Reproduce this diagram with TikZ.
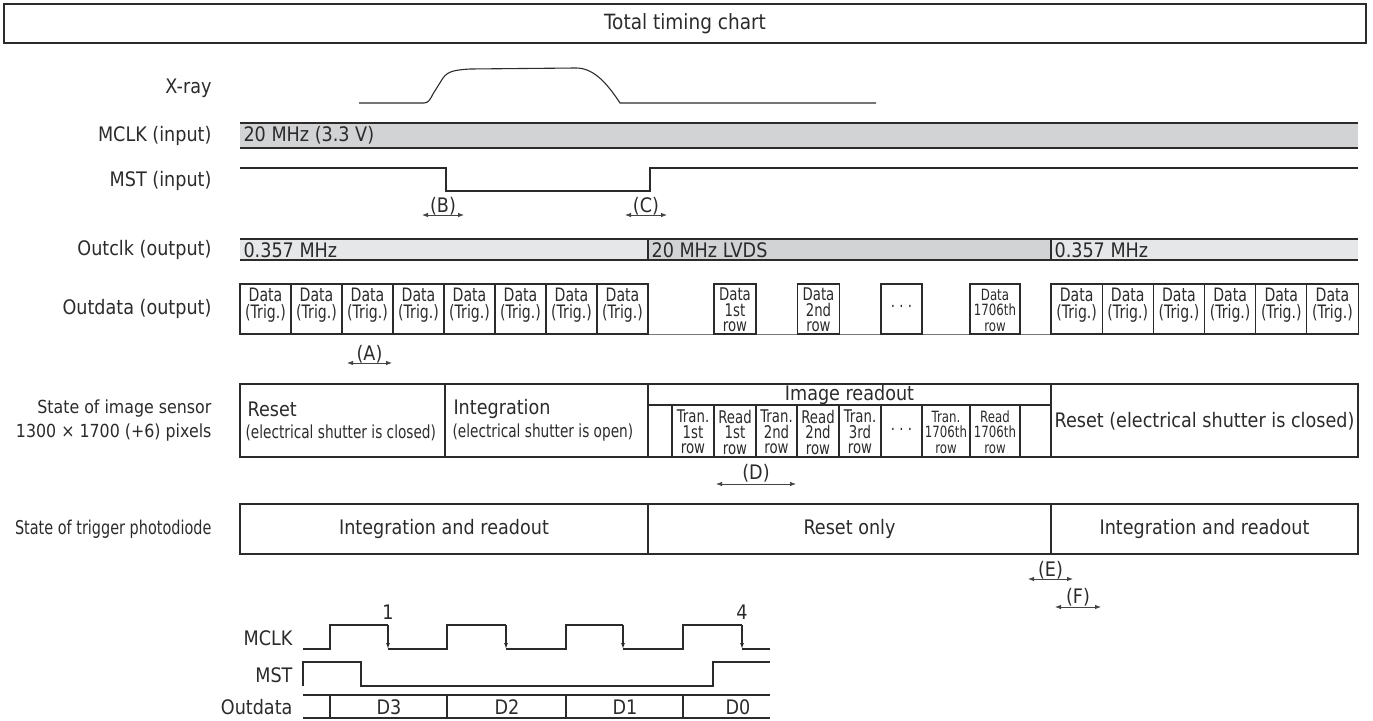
\documentclass[tikz,border=0pt]{standalone}
\usepackage{fontspec}
\setmainfont{DejaVu Sans}[FakeStretch=0.88]
\newfontfamily\narrowfont{DejaVu Sans}[FakeStretch=0.76]
\usetikzlibrary{arrows.meta}
\definecolor{ln}{HTML}{2B2B2B}
\definecolor{barA}{HTML}{D1D3D4}
\definecolor{barB}{HTML}{E6E7E8}
\definecolor{arr}{HTML}{444444}
\definecolor{base}{HTML}{777777}
\newcommand{\lblfont}{\fontsize{20}{22}\selectfont}
\newcommand{\ttlfont}{\fontsize{21}{24}\selectfont}
\newcommand{\midfont}{\fontsize{18}{24}\selectfont}
\newcommand{\nrwfont}{\narrowfont\fontsize{19}{24}\selectfont}
\newcommand{\shutfont}{\narrowfont\fontsize{18}{24}\selectfont}
\newcommand{\cellfont}{\narrowfont\fontsize{18.5}{17}\selectfont}
\newcommand{\subfont}{\narrowfont\fontsize{17.5}{15.5}\selectfont}
\newcommand{\tinyfont}{\narrowfont\fontsize{15.5}{15.5}\selectfont}
\begin{document}
\begin{tikzpicture}[x=1pt,y=-1pt,line width=1.1pt,color=ln,
  lbl/.style={anchor=east,inner sep=0,font=\lblfont},
  txt/.style={inner sep=0,font=\lblfont},
  wtxt/.style={anchor=west,inner sep=0,font=\lblfont},
  databox/.style={draw=ln,minimum height=50pt,inner sep=0},
  trigtext/.style={inner sep=0,align=center,font=\cellfont},
  subtext/.style={inner sep=0,align=center,font=\subfont},
  dim/.style={draw=arr,line width=0.8pt,{Latex[length=6pt,width=4.5pt]}-{Latex[length=6pt,width=4.5pt]}},
  annot/.style={inner sep=0,font=\lblfont},
  wave/.style={line width=1.1pt},
  fall/.style={line width=1.1pt,-{Latex[length=6pt,width=4pt]}}]
\useasboundingbox (0,0) rectangle (1373,720);

% title
\node[draw=ln,minimum width=1362pt,minimum height=39pt,inner sep=0,font=\ttlfont] (title) at (685,23.5) {Total timing chart};

% row labels
\node[lbl] (lxray) at (212,88) {X-ray};
\node[lbl] (lmclk) at (212,135.5) {MCLK (input)};
\node[lbl] (lmst) at (212,181) {MST (input)};
\node[lbl] (loutclk) at (212,250) {Outclk (output)};
\node[lbl] (loutdata) at (212,309) {Outdata (output)};
\node[lbl,font=\midfont,align=right] (lsensor) at (212,421) {State of image sensor\\1300 × 1700 (+6) pixels};
\node[lbl,font=\nrwfont] (ltrig) at (212,529) {State of trigger photodiode};

% X-ray
\draw[wave] (359,103) -- (424,103) .. controls (428,103) and (430,100) .. (433,94) -- (443,78)
  .. controls (448,71) and (455,70) .. (470,69) -- (576,68)
  .. controls (592,68) and (605,80) .. (620,103) -- (876,103);

% MCLK bar
\fill[barA] (240,123) rectangle (1358,148);
\draw (240,123) -- (1358,123) (240,148) -- (1358,148);
\node[wtxt] (mclktxt) at (243,135.5) {20 MHz (3.3 V)};

% MST
\draw[wave] (240,168) -- (446,168) -- (446,191) -- (650,191) -- (650,168) -- (1358,168);

% (B) (C)
\coordinate (b1) at (422,215); \coordinate (b2) at (464,215);
\draw[dim] (b1) -- (b2);
\node[annot] (labB) at (443,206) {(B)};
\coordinate (c1) at (625,215); \coordinate (c2) at (667,215);
\draw[dim] (c1) -- (c2);
\node[annot] (labC) at (646,206) {(C)};

% Outclk
\fill[barB] (240,239) rectangle (648,260);
\fill[barA] (648,239) rectangle (1051,260);
\fill[barB] (1051,239) rectangle (1358,260);
\draw (240,239) -- (1358,239) (240,260) -- (1358,260) (648,239) -- (648,260) (1051,239) -- (1051,260);
\node[wtxt] (oc1) at (243,250) {0.357 MHz};
\node[wtxt] (oc2) at (651,250) {20 MHz LVDS};
\node[wtxt] (oc3) at (1054,250) {0.357 MHz};

% Outdata
\foreach \i in {0,...,7}{
  \node[databox,minimum width=51pt] (tl\i) at ({265.5+51*\i},309) {};
  \node[trigtext] (ttl\i) at ({265.5+51*\i},305.5) {Data\\(Trig.)};
}
\foreach \i in {0,...,5}{
  \node[databox,minimum width=51.17pt] (tr\i) at ({1076.6+51.17*\i},309) {};
  \node[trigtext] (ttr\i) at ({1076.6+51.17*\i},305.5) {Data\\(Trig.)};
}
\draw[base] (tl7.south east) -- (tr0.south west);
\node[databox,minimum width=42pt] (d1) at (735,309) {};
\node[subtext] (d1t) at (735,310) {Data\\1st\\row};
\node[databox,minimum width=42pt] (d2) at (818.5,309) {};
\node[subtext] (d2t) at (818.5,310) {Data\\2nd\\row};
\node[databox,minimum width=41pt] (d3) at (901.5,309) {};
\node[subtext] (d3t) at (901.5,309) {· · ·};
\node[databox,minimum width=50pt] (d4) at (995,309) {};
\node[inner sep=0,align=center,font=\tinyfont] (d4t) at (995,310) {Data\\1706th\\row};

% (A)
\coordinate (a1) at (347,363); \coordinate (a2) at (392,363);
\draw[dim] (a1) -- (a2);
\node[annot] (labA) at (369.5,354) {(A)};

% image sensor
\draw (240,384) rectangle (1358,457);
\draw (445,384) -- (445,457) (648,384) -- (648,457) (1051,384) -- (1051,457) (648,405) -- (1051,405);
\foreach \xx in {672,714,756,797,839,881,922,970,1020}{\draw (\xx,405) -- (\xx,457);}
\node[wtxt] (s1a) at (247,409) {Reset};
\node[anchor=west,inner sep=0,font=\shutfont] (s1b) at (245,433) {(electrical shutter is closed)};
\node[wtxt] (s2a) at (453,409) {Integration};
\node[anchor=west,inner sep=0,font=\shutfont] (s2b) at (452,433) {(electrical shutter is open)};
\node[txt] (s3) at (849.5,394.5) {Image readout};
\node[subtext] (r1) at (693,432) {Tran.\\1st\\row};
\node[subtext] (r2) at (735,432) {Read\\1st\\row};
\node[subtext] (r3) at (776.5,432) {Tran.\\2nd\\row};
\node[subtext] (r4) at (818,432) {Read\\2nd\\row};
\node[subtext] (r5) at (860,432) {Tran.\\3rd\\row};
\node[subtext] (r6) at (901.5,432) {· · ·};
\node[inner sep=0,align=center,font=\tinyfont] (r7) at (946,432) {Tran.\\1706th\\row};
\node[inner sep=0,align=center,font=\tinyfont] (r8) at (995,432) {Read\\1706th\\row};
\node[txt] (s4) at (1204.5,421) {Reset (electrical shutter is closed)};

% (D)
\coordinate (dd1) at (716,484); \coordinate (dd2) at (796,484);
\draw[dim] (dd1) -- (dd2);
\node[annot] (labD) at (756,473) {(D)};

% trigger photodiode
\draw (240,504) rectangle (1358,554);
\draw (648,504) -- (648,554) (1051,504) -- (1051,554);
\node[txt] (p1) at (444,529) {Integration and readout};
\node[txt] (p2) at (849.5,529) {Reset only};
\node[txt] (p3) at (1204.5,529) {Integration and readout};

% (E) (F)
\coordinate (e1) at (1028,579); \coordinate (e2) at (1073,579);
\draw[dim] (e1) -- (e2);
\node[annot] (labE) at (1050.5,570) {(E)};
\coordinate (f1) at (1055,607); \coordinate (f2) at (1101,607);
\draw[dim] (f1) -- (f2);
\node[annot] (labF) at (1078,597) {(F)};

% bottom detail
\node[lbl] (bmclk) at (293,638) {MCLK};
\node[lbl] (bmst) at (293,675) {MST};
\node[lbl] (bout) at (293,707) {Outdata};
\node[txt] (n1) at (388,612) {1};
\node[txt] (n4) at (742,612) {4};
\draw[wave] (303,649) -- (330,649) -- (330,625) -- (388,625);
\draw[fall] (388,625) -- (388,649);
\draw[wave] (388,649) -- (447,649) -- (447,625) -- (506,625);
\draw[fall] (506,625) -- (506,649);
\draw[wave] (506,649) -- (566,649) -- (566,625) -- (623,625);
\draw[fall] (623,625) -- (623,649);
\draw[wave] (623,649) -- (683,649) -- (683,625) -- (742,625);
\draw[fall] (742,625) -- (742,649);
\draw[wave] (742,649) -- (770,649);
\draw[wave] (303,686) -- (303,662) -- (361,662) -- (361,686) -- (713,686) -- (713,662) -- (770,662);
\draw (303,695) -- (770,695) (303,718) -- (770,718);
\foreach \xx in {330,447,566,683}{\draw (\xx,695) -- (\xx,718);}
\node[txt] (q3) at (389,707) {D3};
\node[txt] (q2) at (507,707) {D2};
\node[txt] (q1) at (625,707) {D1};
\node[txt] (q0) at (738,707) {D0};
\end{tikzpicture}
\end{document}
